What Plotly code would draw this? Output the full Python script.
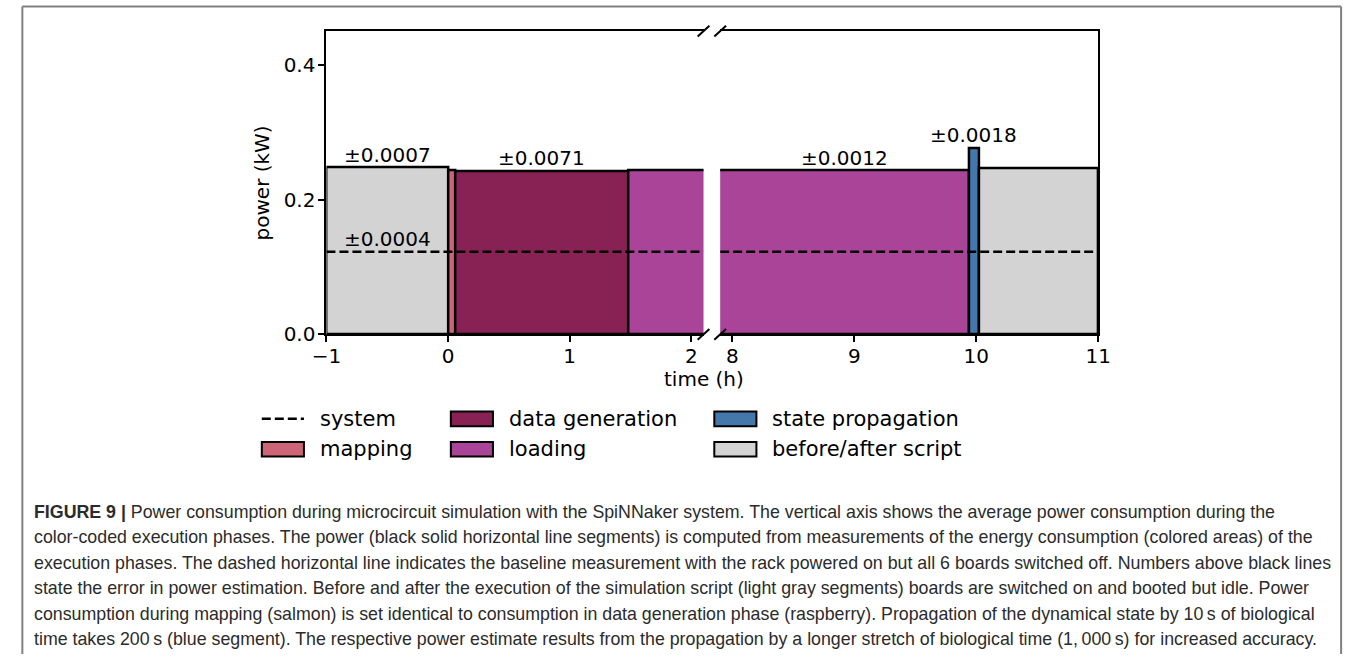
import plotly.graph_objects as go

# ---------------- data ----------------
phases = ["before script", "mapping", "data generation", "loading", "state propagation", "after script"]
t_start = [-1.0, 0.0, 0.06, 1.48, 9.94, 10.02]          # h
t_end = [0.0, 0.06, 1.48, 9.94, 10.02, 11.0]            # h
power = [0.2475, 0.2435, 0.2420, 0.2430, 0.2770, 0.2460]  # kW
errors = ["±0.0007", None, "±0.0071", "±0.0012", "±0.0018", None]
system_power = 0.1225
system_error = "±0.0004"

colors = {
    "before script": "#d3d3d3",
    "mapping": "#cc6677",
    "data generation": "#882255",
    "loading": "#aa4499",
    "state propagation": "#4477aa",
    "after script": "#d3d3d3",
}

left_range = [-1.0, 2.1]
right_range = [7.9, 11.0]
y_range = [0.0, 0.45]
left_ticks = [-1, 0, 1, 2]
right_ticks = [8, 9, 10, 11]
y_ticks = [0.0, 0.2, 0.4]
y_ticklabels = ["0.0", "0.2", "0.4"]

legend_rows = [
    [("system", "line"), ("data generation", "patch"), ("state propagation", "patch")],
    [("mapping", "patch"), ("loading", "patch"), ("before/after script", "patch")],
]
legend_colors = {"data generation": "#882255", "state propagation": "#4477aa",
                 "mapping": "#cc6677", "loading": "#aa4499", "before/after script": "#d3d3d3"}

caption_lines = [
    "<b>FIGURE 9 |</b> Power consumption during microcircuit simulation with the SpiNNaker system. The vertical axis shows the average power consumption during the",
    "color-coded execution phases. The power (black solid horizontal line segments) is computed from measurements of the energy consumption (colored areas) of the",
    "execution phases. The dashed horizontal line indicates the baseline measurement with the rack powered on but all 6 boards switched off. Numbers above black lines",
    "state the error in power estimation. Before and after the execution of the simulation script (light gray segments) boards are switched on and booted but idle. Power",
    "consumption during mapping (salmon) is set identical to consumption in data generation phase (raspberry). Propagation of the dynamical state by 10\u2009s of biological",
    "time takes 200\u2009s (blue segment). The respective power estimate results from the propagation by a longer stretch of biological time (1,\u2009000\u2009s) for increased accuracy.",
]

# ---------------- layout helpers ----------------
W, H = 1360, 666
def px(x):
    return x / W
def py(y):
    return 1 - y / H

AX_L, AX_R1, AX_L2, AX_R = 318, 703, 720, 1106
AX_T, AX_B = 31.7, 340.5
FONT = "DejaVu Sans"

fig = go.Figure()

centers = [(a + b) / 2 for a, b in zip(t_start, t_end)]
widths = [b - a for a, b in zip(t_start, t_end)]
axes = (("x", "y", left_range), ("x2", "y2", right_range))

for xa, ya, rng in axes:
    for i, ph in enumerate(phases):
        if t_end[i] <= rng[0] or t_start[i] >= rng[1]:
            continue
        fig.add_trace(go.Bar(
            x=[centers[i]], y=[power[i]], width=[widths[i]], base=0,
            marker=dict(color=colors[ph], line=dict(color="black", width=2.5)),
            xaxis=xa, yaxis=ya, showlegend=False, name=ph, hoverinfo="name+y",
        ))
    fig.add_trace(go.Scatter(
        x=rng, y=[system_power, system_power], mode="lines",
        line=dict(color="black", width=2.5, dash="9px,4px"),
        xaxis=xa, yaxis=ya, showlegend=False, name="system",
    ))

annotations = []
# error labels: one per phase, on the axis showing the larger part of the segment
for i, ph in enumerate(phases):
    if errors[i] is None:
        continue
    best = None
    for xa, ya, rng in axes:
        lo = max(t_start[i], rng[0]); hi = min(t_end[i], rng[1])
        if hi > lo and (best is None or hi - lo > best[2] - best[1]):
            best = (xa, lo, hi)
    xa, lo, hi = best
    annotations.append(dict(
        x=(lo + hi) / 2, y=power[i], xref=xa, yref="y", text=errors[i],
        showarrow=False, yanchor="bottom", xanchor="center", yshift=-1,
        font=dict(family=FONT, size=20, color="black")))
annotations.append(dict(
    x=centers[0], y=system_power, xref="x", yref="y", text=system_error,
    showarrow=False, yanchor="bottom", xanchor="center", yshift=-1,
    font=dict(family=FONT, size=20, color="black")))

# axis titles
annotations.append(dict(x=px(703), y=py(386), xref="paper", yref="paper", text="time (h)",
                        showarrow=False, xanchor="center", yanchor="middle",
                        font=dict(family=FONT, size=20, color="black")))
annotations.append(dict(x=px(252), y=py(186), xref="paper", yref="paper", text="power (kW)",
                        showarrow=False, xanchor="center", yanchor="middle", textangle=-90,
                        font=dict(family=FONT, size=20, color="black")))

shapes = []
# broken-axis slashes
for cx in (AX_R1, AX_L2):
    for cy in (AX_T, AX_B):
        shapes.append(dict(type="line", xref="paper", yref="paper",
                           x0=px(cx - 6), y0=py(cy + 5.5), x1=px(cx + 6), y1=py(cy - 5.5),
                           line=dict(color="black", width=2)))

# legend (manual, matplotlib style)
col_x = [252, 445, 714]
row_y = [426.5, 457.5]
for r, row in enumerate(legend_rows):
    for c, (label, kind) in enumerate(row):
        x0 = col_x[c]
        yc = row_y[r]
        if kind == "line":
            shapes.append(dict(type="line", xref="paper", yref="paper",
                               x0=px(x0), x1=px(x0 + 43), y0=py(yc), y1=py(yc),
                               line=dict(color="black", width=2.5, dash="9px,4px")))
        else:
            shapes.append(dict(type="rect", xref="paper", yref="paper",
                               x0=px(x0), x1=px(x0 + 43), y0=py(yc + 7.5), y1=py(yc - 7.5),
                               fillcolor=legend_colors[label], line=dict(color="black", width=2)))
        annotations.append(dict(x=px(x0 + 57), y=py(yc), xref="paper", yref="paper", text=label,
                                showarrow=False, xanchor="left", yanchor="middle",
                                font=dict(family=FONT, size=21, color="black")))

# caption
for k, line in enumerate(caption_lines):
    annotations.append(dict(x=px(17), y=py(521 + 26 * k), xref="paper", yref="paper", text=line,
                            showarrow=False, xanchor="left", yanchor="middle",
                            font=dict(family="Liberation Sans", size=17.8, color="#2b2b2b")))

# outer frame (open at the bottom, kept inside the page)
frame_line = dict(color="#808080", width=2)
for (xa0, ya0, xa1, ya1) in ((7.5, 6.5, 7.5, H), (7.5, 6.5, 1354, 6.5), (1354, 6.5, 1354, H)):
    shapes.append(dict(type="line", xref="paper", yref="paper",
                       x0=px(xa0), y0=py(ya0), x1=px(xa1), y1=py(ya1), line=frame_line))

axis_common = dict(showgrid=False, zeroline=False, showline=True, linecolor="black", linewidth=2,
                   ticks="outside", ticklen=6, tickwidth=2, tickcolor="black",
                   tickfont=dict(family=FONT, size=20, color="black"))

fig.update_layout(
    width=W, height=H, margin=dict(l=0, r=0, t=0, b=0),
    paper_bgcolor="white", plot_bgcolor="white",
    barmode="overlay", bargap=0, showlegend=False,
    xaxis=dict(domain=[px(AX_L), px(AX_R1)], range=left_range, tickvals=left_ticks,
               anchor="y", mirror=True, ticklabelstandoff=-3, **axis_common),
    xaxis2=dict(domain=[px(AX_L2), px(AX_R)], range=right_range, tickvals=right_ticks,
                anchor="y2", mirror=True, ticklabelstandoff=-3, **axis_common),
    yaxis=dict(domain=[py(AX_B), py(AX_T)], range=y_range, tickvals=y_ticks, ticktext=y_ticklabels,
               anchor="x", ticklabelstandoff=-1, **axis_common),
    yaxis2=dict(domain=[py(AX_B), py(AX_T)], range=y_range, matches="y", anchor="x2", side="right",
                showgrid=False, zeroline=False, showline=True, linecolor="black", linewidth=2,
                ticks="", showticklabels=False),
    annotations=annotations, shapes=shapes,
)

fig.write_html("out.html")
